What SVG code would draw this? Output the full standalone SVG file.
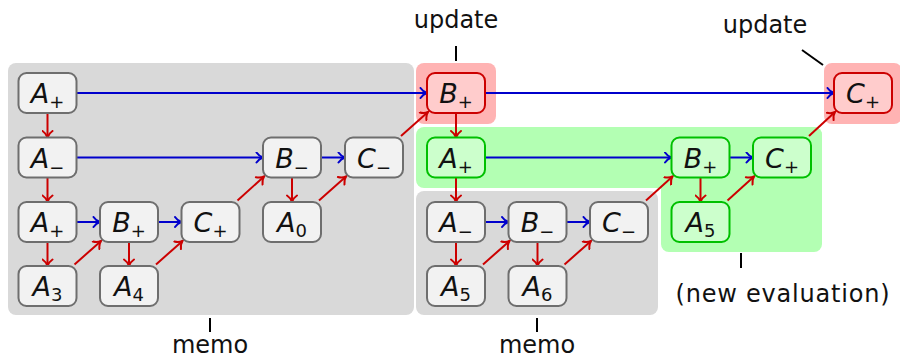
<svg xmlns="http://www.w3.org/2000/svg" width="900" height="358" viewBox="0 0 900 358">
  <style>
    .lbl { font-family: "DejaVu Sans", "Open Sans", sans-serif; font-size: 24px; fill: #111; }
    .nt { font-family: "DejaVu Sans", sans-serif; font-size: 27px; fill: #111; text-anchor: middle; }
    .nt .v { font-style: italic; }
    .nt .s { font-size: 18px; }
    .box { stroke-width: 2; }
    .grey { fill: #f2f2f2; stroke: #6e6e6e; }
    .red { fill: #ffcccc; stroke: #cc0000; }
    .green { fill: #ccffcc; stroke: #00c000; }
    .blue-e { fill: none; stroke: #0000cc; stroke-width: 2; marker-end: url(#ab); }
    .red-e { fill: none; stroke: #cc0000; stroke-width: 2; marker-end: url(#ar); }
    .tick { stroke: #000; stroke-width: 2; }
  </style>
  <defs>
    <marker id="ab" markerUnits="userSpaceOnUse" viewBox="-8 -6 10 12" refX="0" refY="0" markerWidth="10" markerHeight="12" orient="auto">
      <path d="M-6.5,-5 C-4.5,-2 -2,-0.6 0,0 C-2,0.6 -4.5,2 -6.5,5" fill="none" stroke="#0000cc" stroke-width="2" stroke-linecap="round"/>
    </marker>
    <marker id="ar" markerUnits="userSpaceOnUse" viewBox="-8 -6 10 12" refX="0" refY="0" markerWidth="10" markerHeight="12" orient="auto">
      <path d="M-6.5,-5 C-4.5,-2 -2,-0.6 0,0 C-2,0.6 -4.5,2 -6.5,5" fill="none" stroke="#cc0000" stroke-width="2" stroke-linecap="round"/>
    </marker>
  </defs>

  <!-- shaded regions -->
  <g id="regions">
    <rect x="8" y="63" width="406" height="252" rx="8" fill="#d9d9d9"/>
    <rect x="416" y="191" width="242" height="124" rx="8" fill="#d9d9d9"/>
    <rect x="416" y="63" width="80" height="61" rx="8" fill="#ffb3b3"/>
    <rect x="824" y="63" width="78" height="61" rx="8" fill="#ffb3b3"/>
    <rect x="416" y="127" width="406" height="61" rx="8" fill="#b3ffb3"/>
    <rect x="661" y="127" width="161" height="125" rx="8" fill="#b3ffb3"/>
  </g>

  <!-- annotations -->
  <g id="annotations">
    <text class="lbl" x="456" y="28" text-anchor="middle">update</text>
    <line class="tick" x1="456" y1="46" x2="456" y2="61"/>
    <text class="lbl" x="765" y="33" text-anchor="middle">update</text>
    <line class="tick" x1="802" y1="50" x2="823" y2="65"/>
    <line class="tick" x1="210" y1="318" x2="210" y2="332"/>
    <text class="lbl" x="210" y="353" text-anchor="middle">memo</text>
    <line class="tick" x1="537" y1="318" x2="537" y2="332"/>
    <text class="lbl" x="537" y="353" text-anchor="middle">memo</text>
    <line class="tick" x1="741" y1="253" x2="741" y2="268"/>
    <text class="lbl" x="782.5" y="302" text-anchor="middle" textLength="214">(new evaluation)</text>
  </g>

  <!-- connectors -->
  <g id="connectors">
    <!-- horizontal -->
    <path class="blue-e" d="M76.5,93 H427"/>
    <path class="blue-e" d="M485,93 H834"/>
    <path class="blue-e" d="M76.5,157.5 H263"/>
    <path class="blue-e" d="M321,157.5 H345"/>
    <path class="blue-e" d="M485,157.5 H671.5"/>
    <path class="blue-e" d="M729.5,157.5 H753"/>
    <path class="blue-e" d="M76.5,222 H100"/>
    <path class="blue-e" d="M158,222 H181.5"/>
    <path class="blue-e" d="M485,222 H508.5"/>
    <path class="blue-e" d="M566.5,222 H590"/>
    <!-- vertical -->
    <path class="red-e" d="M47.5,113 V137.5"/>
    <path class="red-e" d="M47.5,177.5 V202"/>
    <path class="red-e" d="M47.5,242 V266"/>
    <path class="red-e" d="M129,242 V266"/>
    <path class="red-e" d="M292,177.5 V202"/>
    <path class="red-e" d="M456,113 V137.5"/>
    <path class="red-e" d="M456,177.5 V202"/>
    <path class="red-e" d="M456,242 V266"/>
    <path class="red-e" d="M537.5,242 V266"/>
    <path class="red-e" d="M700.5,177.5 V202"/>
    <!-- diagonal -->
    <path class="red-e" d="M74.5,264.5 L101,241"/>
    <path class="red-e" d="M156,264.5 L182.5,241"/>
    <path class="red-e" d="M237.5,200.5 L264,176.5"/>
    <path class="red-e" d="M319,200.5 L346,176.5"/>
    <path class="red-e" d="M401,136 L428,112"/>
    <path class="red-e" d="M483,264.5 L509.5,241"/>
    <path class="red-e" d="M564.5,264.5 L591,241"/>
    <path class="red-e" d="M646,200.5 L672.5,176.5"/>
    <path class="red-e" d="M727.5,200.5 L754,176.5"/>
    <path class="red-e" d="M809,136 L835,112"/>
  </g>

  <!-- nodes -->
  <g id="n1"><rect class="box grey" x="18.5" y="73" width="58" height="40" rx="8"/><text class="nt" x="47.5" y="103"><tspan class="v">A</tspan><tspan class="s" dy="5">+</tspan></text></g>
  <g id="n2"><rect class="box grey" x="18.5" y="137.5" width="58" height="40" rx="8"/><text class="nt" x="47.5" y="167.5"><tspan class="v">A</tspan><tspan class="s" dy="6">−</tspan></text></g>
  <g id="n3"><rect class="box grey" x="18.5" y="202" width="58" height="40" rx="8"/><text class="nt" x="47.5" y="232"><tspan class="v">A</tspan><tspan class="s" dy="5">+</tspan></text></g>
  <g id="n4"><rect class="box grey" x="18.5" y="266" width="58" height="40" rx="8"/><text class="nt" x="47.5" y="296"><tspan class="v">A</tspan><tspan class="s" dy="5">3</tspan></text></g>
  <g id="n5"><rect class="box grey" x="100" y="202" width="58" height="40" rx="8"/><text class="nt" x="129" y="232"><tspan class="v">B</tspan><tspan class="s" dy="5">+</tspan></text></g>
  <g id="n6"><rect class="box grey" x="100" y="266" width="58" height="40" rx="8"/><text class="nt" x="129" y="296"><tspan class="v">A</tspan><tspan class="s" dy="5">4</tspan></text></g>
  <g id="n7"><rect class="box grey" x="181.5" y="202" width="58" height="40" rx="8"/><text class="nt" x="210.5" y="232"><tspan class="v">C</tspan><tspan class="s" dy="5">+</tspan></text></g>
  <g id="n8"><rect class="box grey" x="263" y="137.5" width="58" height="40" rx="8"/><text class="nt" x="292" y="167.5"><tspan class="v">B</tspan><tspan class="s" dy="6">−</tspan></text></g>
  <g id="n9"><rect class="box grey" x="263" y="202" width="58" height="40" rx="8"/><text class="nt" x="292" y="232"><tspan class="v">A</tspan><tspan class="s" dy="5">0</tspan></text></g>
  <g id="n10"><rect class="box grey" x="345" y="137.5" width="58" height="40" rx="8"/><text class="nt" x="374" y="167.5"><tspan class="v">C</tspan><tspan class="s" dy="6">−</tspan></text></g>
  <g id="n11"><rect class="box red" x="427" y="73" width="58" height="40" rx="8"/><text class="nt" x="456" y="103"><tspan class="v">B</tspan><tspan class="s" dy="5">+</tspan></text></g>
  <g id="n12"><rect class="box green" x="427" y="137.5" width="58" height="40" rx="8"/><text class="nt" x="456" y="167.5"><tspan class="v">A</tspan><tspan class="s" dy="5">+</tspan></text></g>
  <g id="n13"><rect class="box grey" x="427" y="202" width="58" height="40" rx="8"/><text class="nt" x="456" y="232"><tspan class="v">A</tspan><tspan class="s" dy="6">−</tspan></text></g>
  <g id="n14"><rect class="box grey" x="427" y="266" width="58" height="40" rx="8"/><text class="nt" x="456" y="296"><tspan class="v">A</tspan><tspan class="s" dy="5">5</tspan></text></g>
  <g id="n15"><rect class="box grey" x="508.5" y="202" width="58" height="40" rx="8"/><text class="nt" x="537.5" y="232"><tspan class="v">B</tspan><tspan class="s" dy="6">−</tspan></text></g>
  <g id="n16"><rect class="box grey" x="508.5" y="266" width="58" height="40" rx="8"/><text class="nt" x="537.5" y="296"><tspan class="v">A</tspan><tspan class="s" dy="5">6</tspan></text></g>
  <g id="n17"><rect class="box grey" x="590" y="202" width="58" height="40" rx="8"/><text class="nt" x="619" y="232"><tspan class="v">C</tspan><tspan class="s" dy="6">−</tspan></text></g>
  <g id="n18"><rect class="box green" x="671.5" y="137.5" width="58" height="40" rx="8"/><text class="nt" x="700.5" y="167.5"><tspan class="v">B</tspan><tspan class="s" dy="5">+</tspan></text></g>
  <g id="n19"><rect class="box green" x="671.5" y="202" width="58" height="40" rx="8"/><text class="nt" x="700.5" y="232"><tspan class="v">A</tspan><tspan class="s" dy="5">5</tspan></text></g>
  <g id="n20"><rect class="box green" x="753" y="137.5" width="58" height="40" rx="8"/><text class="nt" x="782" y="167.5"><tspan class="v">C</tspan><tspan class="s" dy="5">+</tspan></text></g>
  <g id="n21"><rect class="box red" x="834" y="73" width="58" height="40" rx="8"/><text class="nt" x="863" y="103"><tspan class="v">C</tspan><tspan class="s" dy="5">+</tspan></text></g>
</svg>
